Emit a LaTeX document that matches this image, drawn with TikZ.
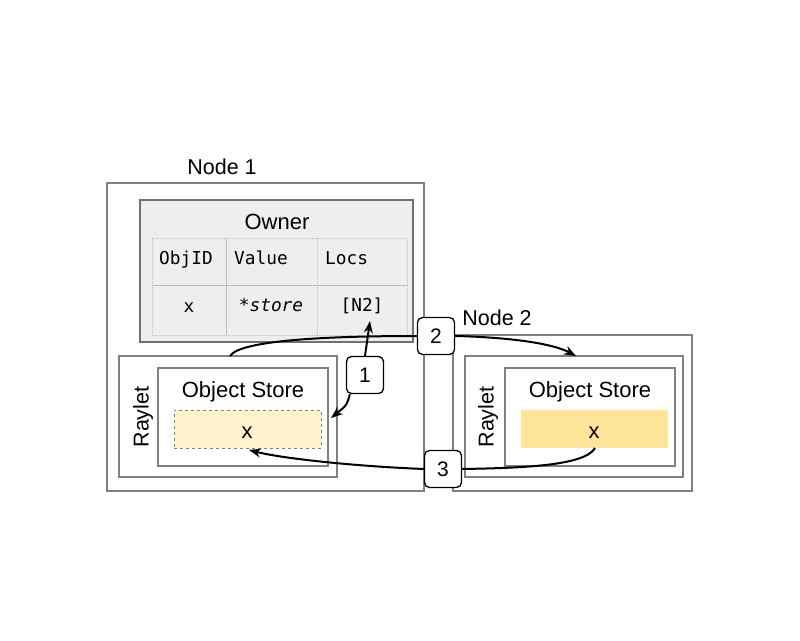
\documentclass[tikz,border=0pt]{standalone}
\usepackage{fontspec}
\setmainfont{Liberation Sans}
\newfontfamily\monof{DejaVu Sans Mono}
\usetikzlibrary{arrows.meta}
\definecolor{boxgray}{HTML}{808080}
\definecolor{ownerfill}{HTML}{EEEEEE}
\definecolor{ownerline}{HTML}{707070}
\definecolor{cellline}{HTML}{BBBBBB}
\definecolor{lightx}{HTML}{FFF2CC}
\definecolor{darkx}{HTML}{FFE599}
\tikzset{
  outerbox/.style={draw=boxgray, line width=1.5pt, fill=white},
  ownerbox/.style={draw=ownerline, line width=2pt, fill=ownerfill},
  cellbox/.style={draw=cellline, line width=1pt, densely dotted},
  celltxt/.style={font=\monof\fontsize{17.8}{20}\selectfont, inner sep=0pt},
  bigtxt/.style={font=\fontsize{22}{26}\selectfont, inner sep=0pt},
  nodetxt/.style={font=\fontsize{21.5}{25}\selectfont, inner sep=0pt},
  numbox/.style={draw=black, line width=1.3pt, fill=white, rounded corners=5pt,
    minimum width=37pt, minimum height=37pt, inner sep=0pt, font=\fontsize{21}{25}\selectfont},
  conn/.style={line width=2pt, draw=black},
  arr/.style={conn, -{Stealth[length=12pt,width=9pt]}},
}
\begin{document}
\begin{tikzpicture}[x=1pt,y=-1pt]
\useasboundingbox (0,0) rectangle (800,640);
% Node 1
\node[outerbox, minimum width=317pt, minimum height=308pt, inner sep=0pt] (n1) at (265.5,337) {};
\node[nodetxt, anchor=base] (n1lab) at (222,174) {Node 1};
% Node 2
\node[outerbox, minimum width=239pt, minimum height=156pt, inner sep=0pt] (n2) at (572.5,413) {};
\node[nodetxt, anchor=base] (n2lab) at (497,325) {Node 2};
% Owner
\node[ownerbox, minimum width=273pt, minimum height=142pt, inner sep=0pt] (owner) at (276.5,271) {};
\node[bigtxt, anchor=base] (ownerlab) at (277,229) {Owner};
% table cells
\node[cellbox, minimum width=74pt, minimum height=47pt, inner sep=0pt] (c11) at (189,261.5) {};
\node[cellbox, minimum width=91pt, minimum height=47pt, inner sep=0pt] (c12) at (271.5,261.5) {};
\node[cellbox, minimum width=90pt, minimum height=47pt, inner sep=0pt] (c13) at (362,261.5) {};
\node[cellbox, minimum width=74pt, minimum height=50pt, inner sep=0pt] (c21) at (189,310) {};
\node[cellbox, minimum width=91pt, minimum height=50pt, inner sep=0pt] (c22) at (271.5,310) {};
\node[cellbox, minimum width=90pt, minimum height=50pt, inner sep=0pt] (c23) at (362,310) {};
\node[celltxt, anchor=base west] (t11) at (159,264) {ObjID};
\node[celltxt, anchor=base west] (t12) at (234,264) {Value};
\node[celltxt, anchor=base west] (t13) at (325,264) {Locs};
\node[celltxt, anchor=base] (t21) at (189,312) {x};
\node[celltxt, anchor=base] (t22) at (271,311) {*\textit{store}};
\node[celltxt, anchor=base] (t23) at (362,311) {[N2]};
% Raylet 1
\node[outerbox, minimum width=218pt, minimum height=121pt, inner sep=0pt] (ray1) at (228,416.5) {};
\node[nodetxt, rotate=90] (ray1lab) at (143,417) {Raylet};
\node[outerbox, minimum width=170pt, minimum height=98pt, inner sep=0pt] (os1) at (243,417) {};
\node[bigtxt, anchor=base] (os1lab) at (243,397) {Object Store};
\node[draw=boxgray, dashed, line width=1pt, fill=lightx, minimum width=147pt, minimum height=38pt, inner sep=0pt] (x1) at (247.5,429) {};
\node[bigtxt, anchor=base] (x1lab) at (247,438) {x};
% Raylet 2
\node[outerbox, minimum width=218pt, minimum height=121pt, inner sep=0pt] (ray2) at (574,416.5) {};
\node[nodetxt, rotate=90] (ray2lab) at (488,417) {Raylet};
\node[outerbox, minimum width=170pt, minimum height=98pt, inner sep=0pt] (os2) at (590,417) {};
\node[bigtxt, anchor=base] (os2lab) at (590,397) {Object Store};
\node[fill=darkx, minimum width=147pt, minimum height=38pt, inner sep=0pt] (x2) at (594.5,429) {};
\node[bigtxt, anchor=base] (x2lab) at (594,438) {x};
% labels
\node[numbox] (b2) at (436,336) {2};
\node[numbox] (b3) at (443,469) {3};
\node[numbox] (b1) at (365,375) {1};
% connectors
\coordinate (r1top) at (230,356);
\coordinate (r2top) at (576,356);
\coordinate (n2cell) at (370,321);
\coordinate (os1right) at (331,418);
\coordinate (x2bot) at (595,448);
\coordinate (x1bot) at (249,450);
\draw[conn] (r1top) .. controls (240,340) and (330,336) .. (b2.west);
\draw[arr] (b2.east) .. controls (500,337) and (550,342) .. (r2top);
\draw[arr] (b1.north) -- (n2cell);
\draw[arr] (b1.south west) ++(4,0) .. controls (347,405) .. (os1right);
\draw[conn] (x2bot) .. controls (585,466) and (520,468) .. (b3.east);
\draw[arr] (b3.west) .. controls (350,466) and (280,458) .. (x1bot);
\end{tikzpicture}
\end{document}
